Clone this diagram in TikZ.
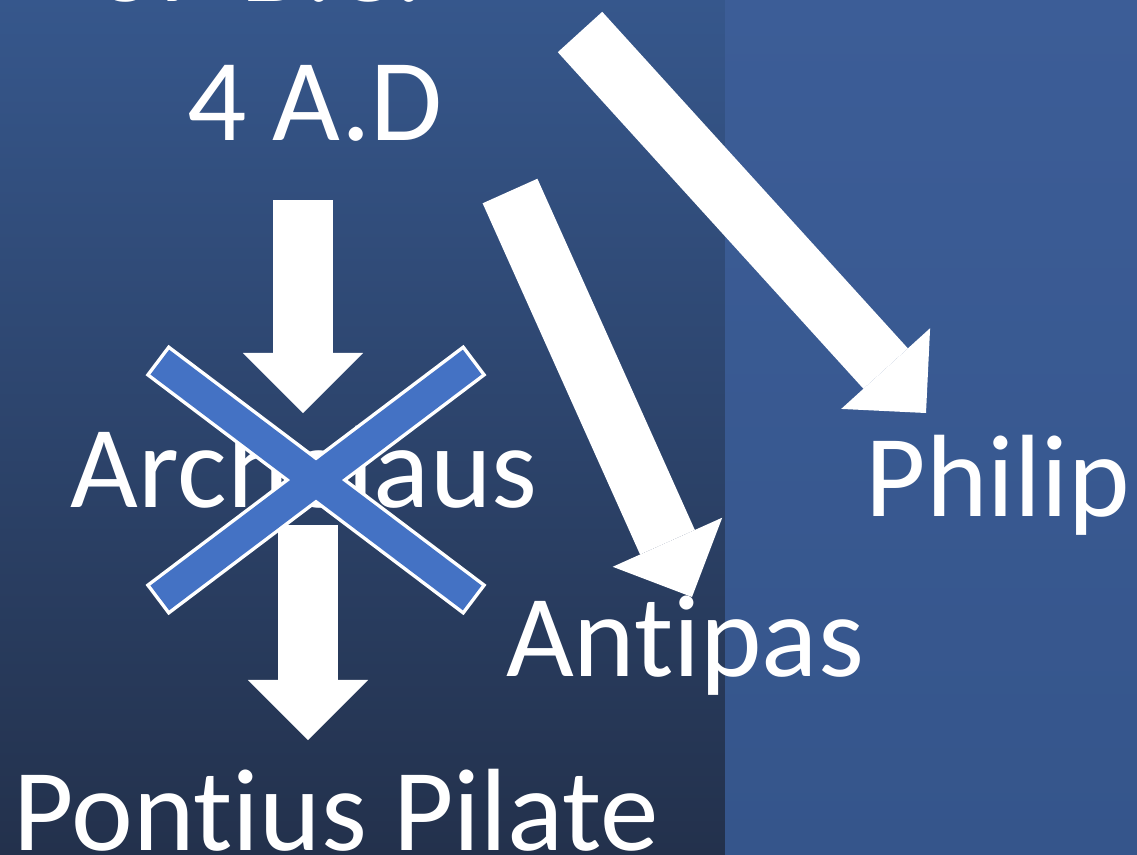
\documentclass[tikz,border=0pt]{standalone}
\usepackage{fontspec}
\setmainfont{Carlito}[Ligatures=NoCommon]
\usetikzlibrary{arrows.meta}
\definecolor{paneltop}{HTML}{36578C}
\definecolor{panelmid}{HTML}{2E4774}
\definecolor{panelbot}{HTML}{23314C}
\definecolor{rightpanel}{HTML}{3C5D97}
\definecolor{rightpanelb}{HTML}{35558B}
\definecolor{crossblue}{HTML}{4472C4}
\tikzset{
  who/.style={text=white, inner sep=0pt, anchor=base,
    font=\fontsize{33.3}{40}\selectfont},
  bigarrow/.style={white, line width=6mm,
    -{Triangle[width=12mm, length=6mm, line width=0pt]}},
  crossbar/.style={line width=3.8mm, white},
  crossfill/.style={line width=3.1mm, crossblue, shorten <=0.35mm, shorten >=0.35mm}
}
\begin{document}
\begin{tikzpicture}[x=0.01cm, y=-0.01cm]
    % background
        \useasboundingbox (0,0) rectangle (1137,854);
        \clip (0,0) rectangle (1137,854);
        \shade[top color=paneltop, middle color=panelmid, bottom color=panelbot]
            (0,0) rectangle (725,854);
        \shade[top color=rightpanel, bottom color=rightpanelb]
            (725,0) rectangle (1137,854);
    % names
        \node[who, anchor=base west] (bc) at (95,1) {37 B.C.};
        \node[who] (ad) at (315,140) {4 A.D};
        \node[who] (archelaus) at (304,507) {Archelaus};
        \node[who] (antipas) at (685,676) {Antipas};
        \node[who] (philip) at (998,516) {Philip};
        \node[who] (pilate) at (336,850) {Pontius Pilate};
    % arrow ends
        \coordinate (adS) at (303,200);
        \coordinate (arN) at (303,413);
        \coordinate (arS) at (308,525);
        \coordinate (piN) at (308,740);
        \coordinate (adE) at (510,191);
        \coordinate (anN) at (692,597);
        \coordinate (adNE) at (580,32);
        \coordinate (phN) at (926,413);
    % arrows
        \foreach \a/\b in {adS/arN,arS/piN,adE/anN,adNE/phN}{
            \draw[bigarrow] (\a) -- (\b);
        }
    % cross over Archelaus
        \coordinate (xa) at (157,360);
        \coordinate (xb) at (475,600);
        \coordinate (xc) at (157,600);
        \coordinate (xd) at (475,360);
        \draw[crossbar] (xa) -- (xb);
        \draw[crossbar] (xc) -- (xd);
        \draw[crossfill] (xa) -- (xb);
        \draw[crossfill] (xc) -- (xd);
\end{tikzpicture}
\end{document}
